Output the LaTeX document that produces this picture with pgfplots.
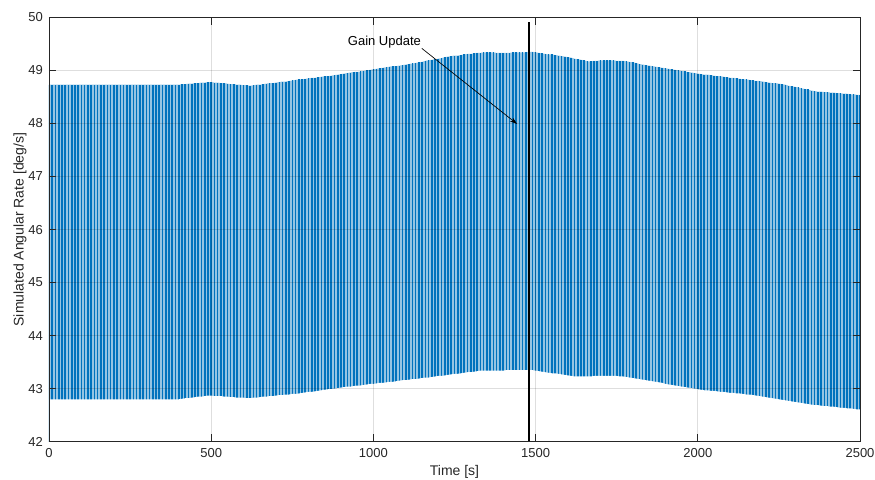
\documentclass[border=0pt]{standalone}
\usepackage{fontspec}
\setmainfont{Liberation Sans}
\usepackage{pgfplots}
\usepackage{pgfplotstable}
\pgfplotsset{compat=1.18}
\usetikzlibrary{arrows.meta}
\definecolor{mblue}{RGB}{0,114,189}
\definecolor{axgray}{RGB}{38,38,38}
% t = start of each oscillation cycle [s]; U = peak, L = trough [deg/s]
\pgfplotstableread{
t U L
0 48.73 42.80
10 48.73 42.80
20 48.73 42.80
30 48.73 42.80
40 48.73 42.80
50 48.73 42.80
60 48.73 42.80
70 48.73 42.80
80 48.73 42.80
90 48.73 42.80
100 48.73 42.80
110 48.73 42.80
120 48.73 42.80
130 48.73 42.80
140 48.73 42.80
150 48.73 42.80
160 48.73 42.80
170 48.73 42.80
180 48.73 42.80
190 48.73 42.80
200 48.73 42.80
210 48.73 42.80
220 48.73 42.80
230 48.73 42.80
240 48.73 42.80
250 48.73 42.80
260 48.73 42.80
270 48.73 42.80
280 48.73 42.80
290 48.73 42.80
300 48.73 42.80
310 48.73 42.80
320 48.73 42.80
330 48.73 42.80
340 48.73 42.80
350 48.73 42.80
360 48.73 42.80
370 48.73 42.80
380 48.73 42.80
390 48.73 42.80
400 48.73 42.80
410 48.74 42.81
420 48.74 42.82
430 48.75 42.82
440 48.75 42.83
450 48.76 42.84
460 48.76 42.85
470 48.77 42.85
480 48.77 42.86
490 48.78 42.87
500 48.78 42.87
510 48.77 42.86
520 48.77 42.86
530 48.76 42.86
540 48.76 42.85
550 48.75 42.85
560 48.74 42.84
570 48.74 42.84
580 48.73 42.83
590 48.73 42.83
600 48.72 42.83
610 48.72 42.82
620 48.71 42.82
630 48.72 42.83
640 48.73 42.83
650 48.73 42.84
660 48.74 42.85
670 48.75 42.85
680 48.76 42.86
690 48.76 42.86
700 48.77 42.87
710 48.78 42.88
720 48.79 42.88
730 48.79 42.89
740 48.80 42.89
750 48.81 42.90
760 48.82 42.90
770 48.83 42.91
780 48.83 42.92
790 48.84 42.93
800 48.85 42.94
810 48.86 42.94
820 48.86 42.95
830 48.87 42.96
840 48.88 42.97
850 48.89 42.98
860 48.89 42.99
870 48.90 42.99
880 48.91 43.00
890 48.92 43.01
900 48.93 43.02
910 48.94 43.03
920 48.95 43.04
930 48.96 43.04
940 48.97 43.05
950 48.97 43.06
960 48.98 43.06
970 48.99 43.07
980 49.00 43.08
990 49.01 43.09
1000 49.02 43.09
1010 49.03 43.10
1020 49.04 43.11
1030 49.05 43.11
1040 49.06 43.12
1050 49.07 43.13
1060 49.08 43.13
1070 49.08 43.14
1080 49.09 43.15
1090 49.10 43.16
1100 49.11 43.16
1110 49.12 43.17
1120 49.13 43.18
1130 49.14 43.18
1140 49.15 43.19
1150 49.16 43.20
1160 49.18 43.21
1170 49.19 43.21
1180 49.20 43.22
1190 49.21 43.23
1200 49.22 43.24
1210 49.23 43.24
1220 49.25 43.25
1230 49.26 43.26
1240 49.27 43.27
1250 49.28 43.28
1260 49.28 43.28
1270 49.29 43.29
1280 49.30 43.30
1290 49.31 43.31
1300 49.31 43.31
1310 49.32 43.32
1320 49.33 43.33
1330 49.33 43.34
1340 49.34 43.34
1350 49.34 43.34
1360 49.34 43.34
1370 49.34 43.34
1380 49.33 43.34
1390 49.33 43.34
1400 49.33 43.34
1410 49.33 43.35
1420 49.33 43.35
1430 49.34 43.35
1440 49.34 43.35
1450 49.34 43.35
1460 49.34 43.35
1470 49.34 43.35
1480 49.35 43.35
1490 49.35 43.35
1500 49.34 43.34
1510 49.33 43.33
1520 49.32 43.32
1530 49.31 43.31
1540 49.30 43.30
1550 49.30 43.29
1560 49.29 43.29
1570 49.28 43.28
1580 49.27 43.27
1590 49.26 43.26
1600 49.25 43.25
1610 49.24 43.24
1620 49.22 43.23
1630 49.21 43.23
1640 49.20 43.23
1650 49.19 43.23
1660 49.17 43.23
1670 49.17 43.23
1680 49.18 43.24
1690 49.18 43.24
1700 49.19 43.24
1710 49.19 43.24
1720 49.19 43.24
1730 49.19 43.24
1740 49.19 43.24
1750 49.18 43.24
1760 49.18 43.23
1770 49.18 43.23
1780 49.17 43.22
1790 49.16 43.21
1800 49.15 43.20
1810 49.14 43.19
1820 49.12 43.18
1830 49.11 43.17
1840 49.10 43.16
1850 49.09 43.15
1860 49.08 43.14
1870 49.07 43.13
1880 49.06 43.12
1890 49.05 43.11
1900 49.04 43.09
1910 49.03 43.08
1920 49.02 43.07
1930 49.01 43.06
1940 49.00 43.05
1950 48.99 43.04
1960 48.98 43.03
1970 48.97 43.02
1980 48.96 43.01
1990 48.95 43.00
2000 48.94 42.99
2010 48.93 42.98
2020 48.92 42.97
2030 48.92 42.97
2040 48.91 42.96
2050 48.90 42.96
2060 48.89 42.95
2070 48.89 42.94
2080 48.88 42.94
2090 48.87 42.93
2100 48.86 42.92
2110 48.86 42.92
2120 48.85 42.91
2130 48.84 42.91
2140 48.83 42.90
2150 48.83 42.89
2160 48.82 42.89
2170 48.81 42.88
2180 48.80 42.87
2190 48.80 42.86
2200 48.79 42.85
2210 48.78 42.84
2220 48.77 42.83
2230 48.76 42.82
2240 48.76 42.81
2250 48.75 42.80
2260 48.74 42.79
2270 48.73 42.78
2280 48.71 42.77
2290 48.70 42.76
2300 48.69 42.75
2310 48.68 42.74
2320 48.66 42.73
2330 48.65 42.72
2340 48.64 42.71
2350 48.62 42.70
2360 48.61 42.69
2370 48.60 42.69
2380 48.60 42.68
2390 48.59 42.67
2400 48.59 42.67
2410 48.58 42.66
2420 48.58 42.66
2430 48.57 42.65
2440 48.57 42.64
2450 48.56 42.64
2460 48.56 42.63
2470 48.55 42.63
2480 48.55 42.62
2490 48.54 42.61
2500 48.54 42.61
}\rate
\begin{document}
\begin{tikzpicture}
\useasboundingbox (-36.75pt,-28pt) rectangle (619.5pt,331.3pt);
\begin{axis}[
  at={(0,0)}, anchor=south west,
  scale only axis, width=608.25pt, height=318.3pt,
  xmin=0, xmax=2500, ymin=42, ymax=50,
  xtick={0,500,1000,1500,2000,2500},
  ytick={42,43,44,45,46,47,48,49,50},
  /pgf/number format/assume math mode=true,
  /pgf/number format/.cd, 1000 sep={}, /pgfplots/.cd,
  tick label style={font=\fontsize{9.75}{11}\selectfont, text=axgray},
  xticklabel style={yshift=-1.5pt},
  yticklabel style={xshift=-1pt},
  label style={font=\fontsize{10.5}{12}\selectfont, text=axgray},
  xlabel={Time [s]},
  ylabel={Simulated Angular Rate [deg/s]},
  xlabel style={at={(axis description cs:0.5,0)}, anchor=base, yshift=-25pt},
  ylabel style={at={(axis description cs:0,0.5)}, anchor=center, yshift=21.75pt},
  grid=major,
  major grid style={black, opacity=0.13, line width=0.5pt},
  axis line style={axgray, line width=0.6pt},
  tick style={axgray, line width=0.6pt},
  tick align=inside,
  major tick length=5.5pt,
  axis on top,
  clip=true,
]
\addplot[draw=none, fill=mblue!42, forget plot] table[x=t, y=U] {\rate} \closedcycle;
\addplot[ycomb, mblue, line width=1.2pt, line cap=butt, mark=none] table[x=t, y=U] {\rate};
\addplot[draw=none, fill=white, forget plot] table[x=t, y=L] {\rate} \closedcycle;
\addplot[black, line width=1.1pt] coordinates {(1479,42) (1479,49.91)};
\draw[black, line width=0.5pt, -{Stealth[length=5.5pt,width=3.5pt]}] (axis cs:1149,49.416) -- (axis cs:1443,47.99);
\node[font=\fontsize{9.75}{11}\selectfont, text=black, anchor=center] at (axis cs:1034,49.54) {Gain Update};
\end{axis}
\end{tikzpicture}
\end{document}
